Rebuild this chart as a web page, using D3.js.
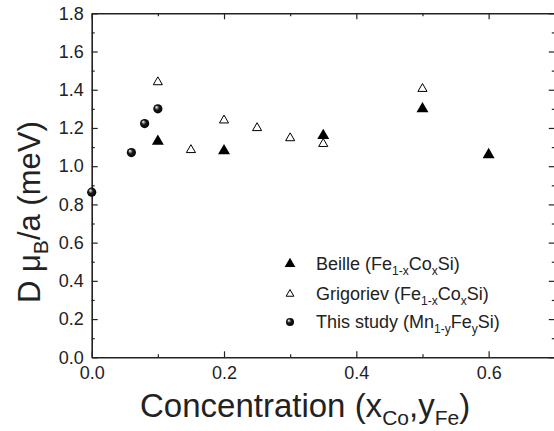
<!DOCTYPE html>
<html lang="en">

<head>
    <meta charset="UTF-8">
    <title>DM constant vs concentration</title>
    <script src="https://cdn.jsdelivr.net/npm/d3@7/dist/d3.min.js"></script>
</head>
<style>
    * {
        margin: 0;
        padding: 0;
    }

    body {
        background: #fff;
    }

    svg text {
        font-family: Arial, "Liberation Sans", Helvetica, sans-serif;
        fill: #222;
    }
</style>

<body>
    <svg></svg>
</body>

<script>
    // data
    const beilleX = [0.1, 0.2, 0.35, 0.5, 0.6]
    const beilleY = [1.13, 1.08, 1.16, 1.30, 1.06]
    const grigX = [0.1, 0.15, 0.2, 0.25, 0.3, 0.35, 0.5]
    const grigY = [1.44, 1.085, 1.24, 1.20, 1.147, 1.117, 1.405]
    const studyX = [0.0, 0.06, 0.08, 0.1]
    const studyY = [0.864, 1.071, 1.223, 1.30]
    const xTicks = [0.0, 0.2, 0.4, 0.6]
    const xMinor = [0.1, 0.3, 0.5, 0.7]
    const yTicks = [0.0, 0.2, 0.4, 0.6, 0.8, 1.0, 1.2, 1.4, 1.6, 1.8]
    const yMinor = [0.1, 0.3, 0.5, 0.7, 0.9, 1.1, 1.3, 1.5, 1.7]

    const W = 554, H = 431
    const L = 91.7, T = 13.3, R = 554.8, B = 357.3

    const svg = d3.select('svg').attr('width', W).attr('height', H)

    const x = d3.scaleLinear().domain([0, 0.7]).range([L, R])
    const y = d3.scaleLinear().domain([0, 1.8]).range([B, T])

    // 渐变 球形标记
    const defs = svg.append('defs')
    const grad = defs.append('radialGradient').attr('id', 'ball')
        .attr('cx', '50%').attr('cy', '50%').attr('r', '55%')
        .attr('fx', '32%').attr('fy', '28%')
    grad.append('stop').attr('offset', '0%').attr('stop-color', '#fff')
    grad.append('stop').attr('offset', '18%').attr('stop-color', '#aaa')
    grad.append('stop').attr('offset', '45%').attr('stop-color', '#1a1a1a')
    grad.append('stop').attr('offset', '100%').attr('stop-color', '#000')

    // axes, ticks pointing inside
    function styleAxis(g) {
        g.selectAll('path').attr('stroke', '#222').attr('stroke-width', 1.6)
        g.selectAll('line').attr('stroke', '#222').attr('stroke-width', 1.2)
        g.selectAll('text').attr('font-size', '18px').attr('fill', '#222')
    }
    const fmt = d3.format('.1f')

    svg.append('g').attr('transform', `translate(0,${B})`)
        .call(d3.axisBottom(x).tickValues(xTicks).tickFormat(fmt).tickSizeInner(-6).tickSizeOuter(0).tickPadding(9))
        .call(styleAxis).attr('font-family', null)
    svg.append('g').attr('transform', `translate(0,${B})`)
        .call(d3.axisBottom(x).tickValues(xMinor).tickFormat('').tickSizeInner(-3).tickSizeOuter(0))
        .call(styleAxis).select('path').remove()

    svg.append('g').attr('transform', `translate(0,${T})`)
        .call(d3.axisTop(x).tickValues(xTicks).tickFormat('').tickSizeInner(-6).tickSizeOuter(0))
        .call(styleAxis)
    svg.append('g').attr('transform', `translate(0,${T})`)
        .call(d3.axisTop(x).tickValues(xMinor).tickFormat('').tickSizeInner(-3).tickSizeOuter(0))
        .call(styleAxis).select('path').remove()

    svg.append('g').attr('transform', `translate(${L},0)`)
        .call(d3.axisLeft(y).tickValues(yTicks).tickFormat(fmt).tickSizeInner(-6).tickSizeOuter(0).tickPadding(8))
        .call(styleAxis).attr('font-family', null)
    svg.append('g').attr('transform', `translate(${L},0)`)
        .call(d3.axisLeft(y).tickValues(yMinor).tickFormat('').tickSizeInner(-3).tickSizeOuter(0))
        .call(styleAxis).select('path').remove()

    svg.append('g').attr('transform', `translate(${R},0)`)
        .call(d3.axisRight(y).tickValues(yTicks).tickFormat('').tickSizeInner(-6).tickSizeOuter(0))
        .call(styleAxis)
    svg.append('g').attr('transform', `translate(${R},0)`)
        .call(d3.axisRight(y).tickValues(yMinor).tickFormat('').tickSizeInner(-3).tickSizeOuter(0))
        .call(styleAxis).select('path').remove()

    // 标记
    const triBig = d3.symbol().type(d3.symbolTriangle).size(62)
    const triSmall = d3.symbol().type(d3.symbolTriangle).size(36)

    svg.append('g').selectAll('path').data(grigX).join('path')
        .attr('d', triSmall)
        .attr('transform', (d, i) => `translate(${x(d)},${y(grigY[i])})`)
        .attr('fill', '#fff').attr('stroke', '#000').attr('stroke-width', 1)

    svg.append('g').selectAll('path').data(beilleX).join('path')
        .attr('d', triBig)
        .attr('transform', (d, i) => `translate(${x(d)},${y(beilleY[i])})`)
        .attr('fill', '#000')

    svg.append('g').selectAll('circle').data(studyX).join('circle')
        .attr('cx', d => x(d)).attr('cy', (d, i) => y(studyY[i]))
        .attr('r', 4.6).attr('fill', 'url(#ball)')

    // legend
    const leg = svg.append('g')
    const lx = 290, tx = 316
    leg.append('path').attr('d', d3.symbol().type(d3.symbolTriangle).size(50))
        .attr('transform', `translate(${lx},264)`).attr('fill', '#000')
    leg.append('path').attr('d', d3.symbol().type(d3.symbolTriangle).size(26))
        .attr('transform', `translate(${lx},294)`).attr('fill', '#fff').attr('stroke', '#000')
    leg.append('circle').attr('cx', lx).attr('cy', 322).attr('r', 4).attr('fill', 'url(#ball)')

    function legText(yy, parts) {
        const t = leg.append('text').attr('x', tx).attr('y', yy).attr('font-size', '18px')
        parts.forEach(p => {
            const s = t.append('tspan').text(p[0])
            if (p[1] === 'sub') s.attr('font-size', '12px').attr('dy', 5)
            else if (p[1] === 'back') s.attr('dy', -5)
        })
    }
    legText(270, [['Beille (Fe'], ['1-x', 'sub'], ['Co', 'back'], ['x', 'sub'], ['Si)', 'back']])
    legText(300, [['Grigoriev (Fe'], ['1-x', 'sub'], ['Co', 'back'], ['x', 'sub'], ['Si)', 'back']])
    legText(328, [['This study (Mn'], ['1-y', 'sub'], ['Fe', 'back'], ['y', 'sub'], ['Si)', 'back']])

    // axis titles
    const xt = svg.append('text').attr('x', 140).attr('y', 417).attr('font-size', '33px')
    xt.append('tspan').text('Concentration (x')
    xt.append('tspan').text('Co').attr('font-size', '21px').attr('dy', 8)
    xt.append('tspan').text(',y').attr('dy', -8)
    xt.append('tspan').text('Fe').attr('font-size', '21px').attr('dy', 8)
    xt.append('tspan').text(')').attr('dy', -8)

    const yt = svg.append('text').attr('transform', 'translate(40,303) rotate(-90)')
        .attr('font-size', '31px')
    yt.append('tspan').text('D \u03bc')
    yt.append('tspan').text('B').attr('font-size', '21px').attr('dy', 8)
    yt.append('tspan').text('/a (meV)').attr('dy', -8)
</script>

</html>
